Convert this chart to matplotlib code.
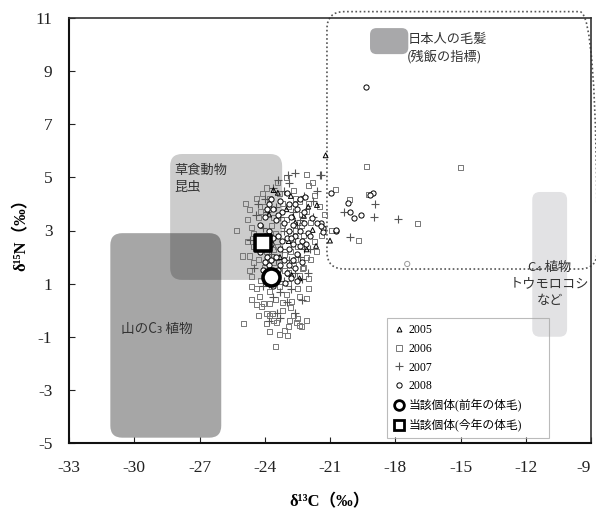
import matplotlib
matplotlib.use("Agg")
import matplotlib.pyplot as plt
import matplotlib.transforms as mtransforms
from matplotlib.patches import FancyBboxPatch
from matplotlib.lines import Line2D

plt.rcParams['font.family'] = ['Liberation Serif', 'Noto Sans CJK JP', 'DejaVu Sans']

# ---------------- data ----------------
x_ticks = [-33, -30, -27, -24, -21, -18, -15, -12, -9]
y_ticks = [-5, -3, -1, 1, 3, 5, 7, 9, 11]

# 2005 (triangles)
x2005 = [-21.2, -23.6, -23.4, -22.8, -21.6, -22.2, -21.8, -21.64, -21.0, -23.0, -22.6, -22.9,
         -23.3, -22.4, -23.8, -22.0, -22.7, -22.07, -22.76]
y2005 = [5.83, 4.52, 4.42, 4.3, 3.96, 3.55, 3.02, 2.42, 2.62, 3.8, 3.3, 2.6,
         2.0, 1.2, 3.6, 3.9, 3.52, 2.29, 1.32]

# 2006 (squares)
x2006 = [-19.3, -15.0, -20.74, -19.22, -20.1, -16.99, -21.25, -20.93, -21.4, -19.7,
         -22.07, -21.8, -21.98, -25.03, -24.68, -24.63, -22.26, -22.07, -22.76, -24.22,
         -24.07, -24.14, -23.79, -23.91, -23.63, -23.6, -23.45, -22.84, -22.53, -22.38,
         -24.99, -23.79, -23.07, -22.96, -22.1, -23.5, -22.3,
         -24.6, -24.3, -24.5, -24.0, -23.8, -23.2, -22.7, -22.4, -23.0, -22.6,
         -22.3, -21.9, -22.2, -23.5, -23.9, -23.4, -22.8, -22.5, -22.1, -24.3,
         -24.0, -23.6, -23.1, -22.7, -24.2, -23.3, -22.9, -24.4, -23.8, -23.0,
         -22.5, -24.5, -24.8, -23.7, -22.9, -24.1, -23.4, -22.0, -21.7, -22.4,
         -24.6, -23.5, -24.4, -23.9, -23.2, -22.7, -24.7, -21.9, -22.3,
         -24.4, -23.9, -23.3, -22.6, -22.1, -24.7, -24.2, -23.6, -23.2, -22.8,
         -24.4, -24.0, -23.6, -23.1, -22.6, -22.2, -24.5, -23.9, -23.4, -22.9,
         -22.4, -23.2, -22.8, -24.3, -22.5, -23.8, -21.5, -21.6, -22.0, -24.8,
         -25.3, -24.9, -23.0, -21.7, -22.9, -24.6, -23.3, -22.0]
y2006 = [5.40, 5.38, 4.55, 4.36, 4.15, 3.27, 3.62, 2.99, 2.83, 2.62,
         5.09, 4.8, 4.71, 2.04, 2.04, 1.26, 1.58, 0.45, 0.32, 0.51,
         0.26, 0.13, 0.26, -0.12, -0.12, -0.37, -0.47, -0.37, -0.47, -0.56,
         -0.5, -0.81, -0.75, -0.94, -0.37, -1.35, -0.6,
         3.1, 3.5, 2.9, 3.9, 4.2, 4.0, 4.5, 4.1, 3.4, 3.0,
         3.6, 3.3, 2.8, 2.9, 2.2, 2.4, 2.2, 2.4, 2.0, 1.9,
         1.6, 1.8, 1.5, 1.7, 1.1, 0.9, 1.0, 0.8, 0.7, 0.6,
         0.8, 2.4, 3.4, 3.2, 3.9, 4.4, 4.8, 4.0, 2.6, 1.3,
         0.9, 0.4, 0.2, -0.5, 0.0, -0.2, 1.5, 1.9, 3.2,
         4.2, 4.6, 4.4, 4.2, 3.7, 3.8, 3.7, 3.5, 3.2, 2.9,
         2.7, 2.5, 2.3, 2.1, 1.9, 1.6, 1.8, 1.4, 1.2, 1.4,
         0.5, 0.3, 0.1, -0.2, -0.3, -0.2, 3.9, 2.2, 1.2, 2.6,
         3.0, 4.0, 5.0, 4.3, -0.6, 0.4, -0.9, 0.8]

# 2007 (plus)
x2007 = [-21.4, -18.93, -20.36, -19.0, -17.86, -20.08, -23.38, -22.92, -22.6, -21.46,
         -24.68, -22.3, -23.45, -23.6, -23.1, -24.3, -23.9, -23.5, -22.7, -22.4,
         -24.1, -23.6, -23.1, -22.6, -22.2, -24.2, -23.7, -23.2, -22.9, -23.4,
         -22.6, -23.8, -23.3, -22.8, -23.6, -23.0, -22.6, -23.3, -21.8, -21.9,
         -24.4, -22.2, -21.6,
         -24.0, -23.3, -22.5, -23.9, -22.4, -24.5, -23.1, -22.3, -23.8, -22.9,
         -21.8, -23.5, -24.1, -22.0]
y2007 = [5.09, 3.99, 3.71, 3.52, 3.42, 2.77, 4.9, 5.09, 5.15, 5.09,
         2.64, 1.16, -0.12, 4.6, 4.5, 4.0, 3.7, 3.9, 3.7, 3.4,
         3.1, 2.7, 3.0, 2.7, 2.3, 2.3, 2.1, 2.3, 1.9, 1.6,
         1.4, 1.0, 0.7, 0.8, 0.5, 0.3, -0.1, -0.3, 3.5, 2.3,
         3.6, 4.3, 4.5,
         4.2, 3.5, 3.2, 2.5, 2.0, 1.6, 1.1, 0.4, -0.4, 4.8,
         4.1, 1.9, 0.9, 1.4]

# 2008 (circles)
x2008 = [-19.34, -20.97, -19.04, -19.16, -20.16, -20.08, -19.88, -19.57, -21.4, -21.34,
         -20.74, -22.15, -21.58, -21.4, -21.84, -21.34, -20.72, -23.07,
         -23.7, -23.3, -22.9, -23.6, -23.2, -22.8, -22.5, -24.0, -23.5, -23.1,
         -22.7, -22.4, -24.2, -23.8, -23.4, -23.0, -22.7, -22.3, -24.0, -23.7,
         -23.3, -22.9, -22.5, -24.2, -23.9, -23.5, -23.1, -22.7, -23.8, -23.4,
         -23.0, -22.6, -24.1, -23.9, -22.5, -23.6, -22.8, -24.3, -22.2, -22.0,
         -22.4, -23.0,
         -23.9, -23.4, -22.9, -22.6, -24.1, -23.6, -23.2, -22.8, -22.4, -23.7,
         -23.3, -22.9, -24.0, -23.5, -22.3, -22.1, -23.8, -22.6, -22.2, -21.9]
y2008 = [8.39, 4.40, 4.42, 4.34, 4.02, 3.71, 3.48, 3.58, 3.27, 3.08,
         2.99, 4.27, 3.27, 3.17, 3.46, 2.95, 3.02, 1.01,
         4.2, 4.1, 4.0, 3.8, 3.7, 3.5, 3.8, 3.5, 3.4, 3.3,
         3.2, 3.0, 3.2, 3.0, 2.8, 2.7, 2.5, 2.6, 2.8, 2.5,
         2.3, 2.3, 2.1, 2.2, 2.0, 2.0, 1.9, 1.9, 1.7, 1.5,
         1.4, 1.6, 1.5, 1.2, 1.1, 0.9, 1.2, 2.6, 3.3, 2.9,
         4.2, 4.4,
         3.8, 3.6, 3.0, 2.8, 2.4, 2.7, 2.6, 2.7, 2.4, 1.9,
         1.7, 1.7, 1.8, 1.3, 1.8, 2.5, 4.0, 4.0, 3.7, 2.8]
x2008_faint = [-17.45]
y2008_faint = [1.74]

# the individual
prev_year = (-23.73, 1.26)
this_year = (-24.07, 2.52)

# reference regions: (x0, x1, y0, y1)
region_c3 = (-31.1, -26.0, -4.8, 2.9)
region_herb = (-28.35, -23.2, 1.14, 5.88)
region_jp = (-19.16, -17.4, 9.64, 10.62)
region_c4 = (-11.7, -10.1, -1.0, 4.45)
region_dotted = (-21.14, -8.72, 1.55, 11.24)

# ---------------- figure ----------------
fig = plt.figure(figsize=(5.96, 5.18), dpi=100)
ax = fig.add_axes([69/596, 75/518, 522/596, 425/518])
ax.set_xlim(-33, -9)
ax.set_ylim(-5, 11)

ASP = (522/24) / (425/16)


def rbox(r, fc, alpha=1.0, rs=0.55, z=1, **kw):
    x0, x1, y0, y1 = r
    p = FancyBboxPatch((x0, y0), x1 - x0, y1 - y0,
                       boxstyle=f"round,pad=0,rounding_size={rs}",
                       mutation_aspect=ASP, fc=fc, alpha=alpha, zorder=z, **kw)
    ax.add_patch(p)
    return p


rbox(region_c3, 'black', alpha=0.35, ec='none')
rbox(region_herb, 'black', alpha=0.2, ec='none')
rbox(region_jp, '#a8a8aa', ec='none', rs=0.3)
rbox(region_c4, '#e2e2e4', ec='none', rs=0.35)
rbox(region_dotted, 'none', ec='#555555', lw=1.2, ls=(0, (1, 1.5)), rs=0.8, z=2,
     clip_on=False)

cjk = ['Noto Sans CJK JP', 'DejaVu Sans']
tc = '#333333'
ax.text(-17.45, 9.85, '日本人の毛髪\n(残飯の指標)', family=cjk, fontsize=9.5, color=tc,
        ha='left', va='center', linespacing=1.4, zorder=5)
ax.text(-28.15, 4.95, '草食動物\n昆虫', family=cjk, fontsize=9.5, color=tc,
        ha='left', va='center', linespacing=1.45, zorder=5)
ax.text(-30.6, -0.7, '山のC₃ 植物', family=cjk, fontsize=9.8, color=tc,
        ha='left', va='center', zorder=5)
ax.text(-10.9, 1.0, 'C₄ 植物\nトウモロコシ\nなど', family=cjk, fontsize=9.5, color=tc,
        ha='center', va='center', linespacing=1.35, zorder=5)

# scatter points
ax.scatter(x2006, y2006, marker='s', s=13, facecolors='none', edgecolors='#777777',
           linewidths=0.7, zorder=3)
ax.scatter(x2007, y2007, marker='+', s=34, color='#555555', linewidths=0.8, zorder=3)
ax.scatter(x2005, y2005, marker='^', s=12, facecolors='none', edgecolors='black',
           linewidths=0.7, zorder=3)
ax.scatter(x2008, y2008, marker='o', s=14, facecolors='white', edgecolors='black',
           linewidths=0.7, zorder=4)
ax.scatter(x2008_faint, y2008_faint, marker='o', s=14, facecolors='none',
           edgecolors='#999999', linewidths=0.7, zorder=4)
ax.scatter([prev_year[0]], [prev_year[1]], marker='o', s=150, facecolors='white',
           edgecolors='black', linewidths=2.6, zorder=6)
ax.scatter([this_year[0]], [this_year[1]], marker='s', s=120, facecolors='white',
           edgecolors='black', linewidths=2.6, zorder=6)

# axes styling
ax.set_xticks(x_ticks)
ax.set_yticks(y_ticks)
ax.set_xticklabels([str(v) for v in x_ticks])
ax.set_yticklabels([str(v) for v in y_ticks])
ax.tick_params(direction='in', length=4, width=0.8, labelsize=12.5, pad=12,
               colors='#222222')
last = ax.get_xticklabels()[-1]
last.set_transform(last.get_transform() +
                   mtransforms.ScaledTranslation(-5/72, 0, fig.dpi_scale_trans))
for s in ['left', 'bottom']:
    ax.spines[s].set_linewidth(1.5)
    ax.spines[s].set_color('#111111')
for s in ['top', 'right']:
    ax.spines[s].set_linewidth(1.2)
    ax.spines[s].set_color('#333333')

ax.set_xlabel('δ¹³C（‰）', fontsize=12, fontweight='bold',
              family=['Liberation Serif', 'Noto Sans CJK JP'])
ax.xaxis.set_label_coords(0.5, -0.12)
ax.set_ylabel('δ¹⁵N（‰）', fontsize=12, fontweight='bold',
              family=['Liberation Serif', 'Noto Sans CJK JP'])
ax.yaxis.set_label_coords(-0.075, 0.5)

# legend
handles = [
    Line2D([], [], marker='^', ls='none', mfc='none', mec='black', ms=3.5, mew=0.7),
    Line2D([], [], marker='s', ls='none', mfc='none', mec='#777777', ms=3.8, mew=0.7),
    Line2D([], [], marker='+', ls='none', color='#555555', ms=6, mew=0.8),
    Line2D([], [], marker='o', ls='none', mfc='none', mec='black', ms=3.8, mew=0.7),
    Line2D([], [], marker='o', ls='none', mfc='white', mec='black', ms=7, mew=2),
    Line2D([], [], marker='s', ls='none', mfc='white', mec='black', ms=7, mew=2),
]
labels = ['2005', '2006', '2007', '2008', '当該個体(前年の体毛)', '当該個体(今年の体毛)']
lx0 = (387 - 69) / 522
ly1 = (443 - 318) / 425
lw = (549 - 387) / 522
leg = ax.legend(handles, labels, loc='upper left', mode='expand',
                bbox_to_anchor=(lx0, ly1 - 0.1, lw, 0.1),
                borderaxespad=0, frameon=True, fancybox=False, facecolor='none',
                edgecolor='#aaaaaa', handlelength=1.0, handletextpad=0.3,
                labelspacing=0.58, borderpad=0.5,
                prop={'family': ['Liberation Serif', 'Noto Sans CJK JP'], 'size': 8.5})
leg.get_frame().set_linewidth(0.8)
leg.set_zorder(7)

fig.savefig('out.png', dpi=100)
